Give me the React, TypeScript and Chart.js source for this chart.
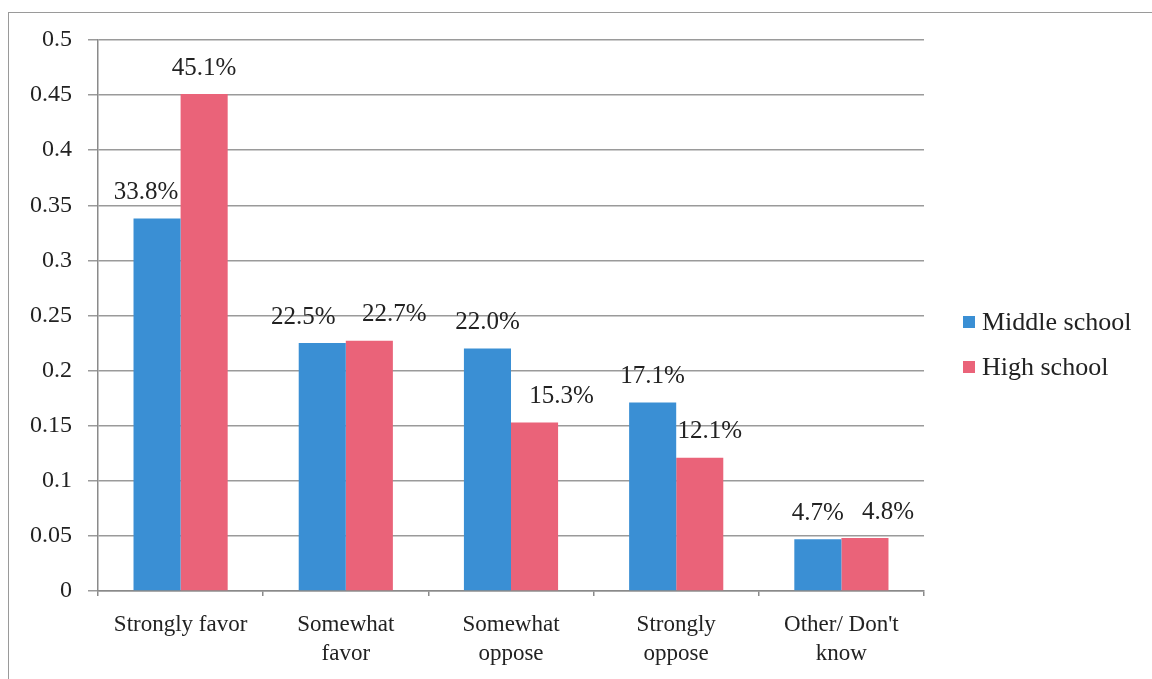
import React, { useEffect, useRef } from "react";
import { Chart, registerables } from "chart.js";

Chart.register(...registerables);

const categories: (string | string[])[] = [
  "Strongly favor",
  ["Somewhat", "favor"],
  ["Somewhat", "oppose"],
  ["Strongly", "oppose"],
  ["Other/ Don't", "know"],
];
const middleSchool = [0.338, 0.225, 0.22, 0.171, 0.047];
const highSchool = [0.451, 0.227, 0.153, 0.121, 0.048];
const yTicks = [0, 0.05, 0.1, 0.15, 0.2, 0.25, 0.3, 0.35, 0.4, 0.45, 0.5];
const seriesNames = ["Middle school", "High school"];

// label horizontal nudges (px) per series, to mimic the original label placement
const labelDx = [
  [-11, -19, 0, 0, 0],
  [0, 25, 27, 10, 23],
];

const FONT = "'Liberation Serif', 'Times New Roman', serif";
const BLUE = "#3a8fd4";
const PINK = "#ea6379";

const labelPlugin = {
  id: "valueLabels",
  afterDatasetsDraw(chart: any) {
    const ctx = chart.ctx;
    ctx.save();
    ctx.font = `25px ${FONT}`;
    ctx.fillStyle = "#222";
    ctx.textAlign = "center";
    ctx.textBaseline = "middle";
    chart.data.datasets.forEach((ds: any, di: number) => {
      const meta = chart.getDatasetMeta(di);
      meta.data.forEach((bar: any, i: number) => {
        const v = ds.data[i] as number;
        ctx.fillText((v * 100).toFixed(1) + "%", bar.x + labelDx[di][i], bar.y - 26);
      });
    });
    ctx.restore();
  },
};

const legendPlugin = {
  id: "customLegend",
  afterDraw(chart: any) {
    const ctx = chart.ctx;
    ctx.save();
    ctx.font = `26px ${FONT}`;
    ctx.textBaseline = "middle";
    ctx.textAlign = "left";
    chart.data.datasets.forEach((ds: any, di: number) => {
      const cy = 322 + di * 45;
      ctx.fillStyle = ds.backgroundColor;
      ctx.fillRect(963, cy - 6, 12, 12);
      ctx.fillStyle = "#222";
      ctx.fillText(ds.label, 982, cy + 1);
    });
    ctx.restore();
  },
};

export default function App() {
  const ref = useRef<HTMLCanvasElement>(null);
  useEffect(() => {
    if (!ref.current) return;
    const chart = new Chart(ref.current, {
      type: "bar",
      data: {
        labels: categories,
        datasets: [
          {
            label: seriesNames[0],
            data: middleSchool,
            backgroundColor: BLUE,
            categoryPercentage: 0.57,
            barPercentage: 1,
          },
          {
            label: seriesNames[1],
            data: highSchool,
            backgroundColor: PINK,
            categoryPercentage: 0.57,
            barPercentage: 1,
          },
        ],
      },
      options: {
        animation: false,
        responsive: false,
        maintainAspectRatio: false,
        layout: { padding: { left: 0, top: 40, right: 228, bottom: 0 } },
        plugins: {
          legend: { display: false },
          tooltip: { enabled: false },
        },
        scales: {
          x: {
            grid: {
              offset: true,
              drawOnChartArea: false,
              drawTicks: true,
              tickLength: 5,
              color: "#8a8a8a",
              lineWidth: 1.5,
            },
            border: { display: true, color: "#8a8a8a", width: 1.5 },
            ticks: {
              color: "#222",
              font: { family: FONT, size: 23, lineHeight: 1.27 },
              padding: 14,
              maxRotation: 0,
              autoSkip: false,
            },
            afterFit(scale: any) {
              scale.height = 88;
            },
          },
          y: {
            min: 0,
            max: 0.5,
            afterBuildTicks(scale: any) {
              scale.ticks = yTicks.map((v) => ({ value: v }));
            },
            grid: {
              color: "#9a9a9a",
              lineWidth: 1.5,
              tickLength: 10,
            },
            border: { display: true, color: "#8a8a8a", width: 1.5 },
            ticks: {
              color: "#222",
              font: { family: FONT, size: 24 },
              padding: 16,
              callback: (v: any) => String(Number(v)),
            },
            afterFit(scale: any) {
              scale.width = 98;
            },
          },
        },
      },
      plugins: [labelPlugin, legendPlugin],
    });
    return () => chart.destroy();
  }, []);

  return (
    <div style={{ position: "absolute", left: 0, top: 0, width: 1152, height: 679, background: "#fff", overflow: "hidden" }}>
      <div
        style={{
          position: "absolute",
          left: 8,
          top: 12,
          width: 1200,
          height: 700,
          borderLeft: "1.5px solid #9a9a9a",
          borderTop: "1.5px solid #9a9a9a",
        }}
      />
      <canvas ref={ref} width={1152} height={679} style={{ position: "absolute", left: 0, top: 0, width: 1152, height: 679 }} />
    </div>
  );
}
